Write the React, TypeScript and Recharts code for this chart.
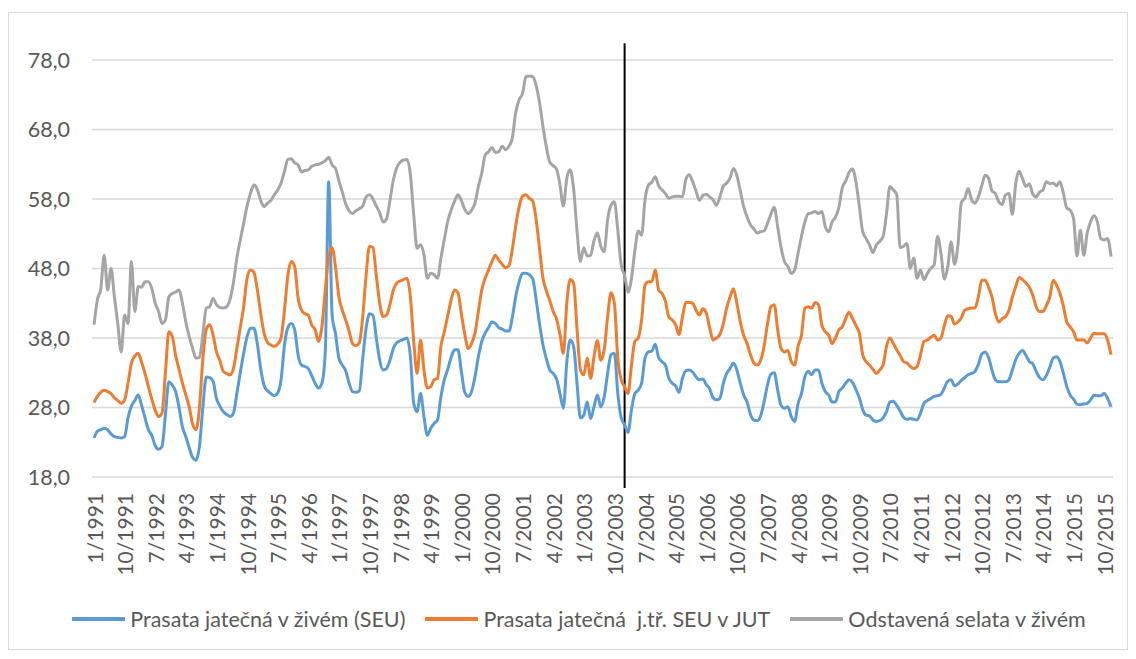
import { CartesianGrid, Legend, Line, LineChart, ReferenceLine, XAxis, YAxis } from "recharts";

const FONT = "Lato, 'Open Sans', sans-serif";
const TEXT = "#595959";

// monthly, 1/1991 .. 12/2015
const years = Array.from({ length: 25 }, (_, i) => 1991 + i);
const categories = years.flatMap((y) => Array.from({ length: 12 }, (_, m) => `${m + 1}/${y}`));

const tickLabels = [
  "1/1991", "10/1991", "7/1992", "4/1993", "1/1994", "10/1994", "7/1995", "4/1996", "1/1997",
  "10/1997", "7/1998", "4/1999", "1/2000", "10/2000", "7/2001", "4/2002", "1/2003", "10/2003",
  "7/2004", "4/2005", "1/2006", "10/2006", "7/2007", "4/2008", "1/2009", "10/2009", "7/2010",
  "4/2011", "1/2012", "10/2012", "7/2013", "4/2014", "1/2015", "10/2015",
];

const yTicks = [18, 28, 38, 48, 58, 68, 78];

const seriesNames = [
  "Prasata jatečná v živém (SEU)",
  "Prasata jatečná  j.tř. SEU v JUT",
  "Odstavená selata v živém",
];

// Prasata jatečná v živém (SEU)
const seu = [
  23.6, 24.6, 24.8, 25.0, 24.8, 24.2, 23.8, 23.7, 23.6, 23.8, 26.5, 28.2,
  29.0, 29.8, 28.3, 26.5, 24.8, 24.0, 22.5, 22.0, 22.4, 27.0, 31.7, 31.2,
  30.3, 28.0, 25.2, 23.8, 22.2, 20.8, 20.4, 22.4, 28.0, 32.4, 32.3, 31.8,
  29.3, 28.2, 27.4, 27.0, 26.7, 27.2, 30.0, 33.0, 35.8, 38.2, 39.4, 39.4,
  37.2, 33.6, 31.2, 30.4, 30.0, 29.7, 30.1, 32.0, 37.0, 39.5, 40.1, 39.2,
  35.6, 34.1, 33.9, 33.6, 32.6, 31.5, 30.8, 31.5, 36.0, 60.5, 41.3, 38.6,
  35.1, 34.1, 33.3, 31.5, 30.3, 30.2, 30.4, 35.0, 39.4, 41.5, 41.3, 38.0,
  34.8, 33.4, 33.6, 34.8, 36.5, 37.3, 37.6, 37.8, 38.0, 35.5, 28.6, 27.4,
  30.0, 26.7, 24.0, 25.0, 25.7, 26.2, 29.6, 32.0, 33.5, 35.2, 36.3, 36.3,
  33.2, 30.2, 29.6, 30.3, 32.4, 35.3, 37.5, 38.7, 39.5, 40.3, 40.1, 39.5,
  39.3, 39.0, 39.0, 41.0, 44.0, 46.1, 47.3, 47.3, 47.1, 46.5, 43.5, 40.0,
  37.0, 35.0, 33.4, 32.9, 32.1, 30.0, 27.9, 34.5, 37.7, 36.8, 31.5, 26.5,
  26.9, 28.8, 26.4, 28.1, 29.8, 28.1, 29.5, 32.9, 35.6, 35.8, 30.0, 26.5,
  25.5, 24.4, 27.6, 30.0, 30.5, 31.5, 35.1, 36.0, 36.1, 37.1, 35.2, 34.6,
  34.1, 32.2, 31.5, 31.1, 30.2, 32.2, 33.3, 33.4, 33.1, 32.4, 32.0, 32.1,
  31.3, 30.7, 29.4, 29.1, 29.3, 31.4, 32.9, 33.6, 34.4, 33.4, 31.5, 29.8,
  28.8, 27.0, 26.2, 26.1, 26.8, 28.8, 31.2, 32.8, 33.0, 30.5, 28.3, 27.9,
  28.1, 26.7, 26.0, 28.6, 30.0, 32.4, 33.2, 32.7, 33.4, 33.4, 31.5, 30.3,
  29.8, 28.8, 28.8, 30.3, 30.8, 31.5, 32.0, 31.6, 30.6, 29.4, 27.7, 26.9,
  26.8, 26.2, 26.0, 26.1, 26.5, 27.4, 28.8, 28.9, 28.3, 27.5, 26.6, 26.3,
  26.4, 26.3, 26.2, 27.2, 28.6, 29.0, 29.3, 29.6, 29.7, 29.9, 30.8, 31.8,
  32.0, 31.1, 31.4, 31.9, 32.3, 32.7, 32.9, 33.2, 34.2, 35.7, 36.0, 35.2,
  33.4, 32.0, 31.7, 31.7, 31.7, 32.0, 33.4, 34.9, 35.8, 36.2, 35.5, 34.6,
  34.3, 33.2, 32.3, 32.0, 32.6, 33.8, 35.1, 35.3, 34.6, 32.9, 31.0, 29.8,
  29.2, 28.5, 28.4, 28.5, 28.6, 29.1, 29.8, 29.7, 29.7, 30.0, 29.3, 28.1,
];

// Prasata jatečná j.tř. SEU v JUT
const jut = [
  28.7, 29.6, 30.2, 30.5, 30.3, 30.0, 29.4, 29.0, 28.6, 29.1, 31.5, 34.4,
  35.4, 35.8, 34.5, 32.9, 31.0, 29.2, 27.6, 26.7, 27.2, 33.0, 38.9, 38.2,
  35.5, 33.5, 31.5, 29.8, 28.1, 25.6, 24.8, 28.0, 35.0, 39.2, 39.9, 38.5,
  36.0, 34.8, 33.2, 32.9, 32.7, 33.6, 36.5, 39.5, 42.5, 46.6, 47.8, 47.5,
  45.0, 41.6, 38.7, 37.4, 37.0, 36.8, 37.1, 38.0, 42.0, 47.0, 49.0, 48.3,
  43.8, 42.0, 41.5, 41.3, 39.9, 39.2, 37.5, 39.6, 44.9, 49.9, 51.0, 48.2,
  43.9, 42.0, 40.6, 39.0, 37.2, 36.9, 37.3, 41.0, 47.0, 51.2, 51.0, 47.0,
  43.0, 41.1, 41.3, 42.8, 44.9, 45.9, 46.2, 46.4, 46.6, 44.0, 37.5, 32.9,
  37.7, 33.4, 30.8, 31.0, 32.0, 32.2, 36.8, 38.9, 41.2, 43.5, 44.9, 44.5,
  41.5, 38.6, 36.5, 37.2, 38.7, 41.8, 44.9, 46.6, 47.8, 49.0, 49.9, 49.2,
  48.6, 48.1, 48.4, 50.8, 54.2, 56.9, 58.4, 58.6, 58.1, 57.7, 55.0, 50.8,
  46.6, 44.8, 43.4, 41.8, 40.7, 38.5, 35.8, 43.0, 46.4, 45.9, 39.4, 33.4,
  32.7, 35.1, 32.2, 35.3, 37.6, 34.8, 36.3, 41.0, 44.5, 43.0, 35.0, 32.0,
  31.0, 30.0, 34.0, 37.5, 38.0, 40.6, 45.6, 46.1, 46.1, 47.8, 44.9, 44.4,
  43.3, 41.0, 40.6, 39.9, 38.5, 41.0, 43.1, 43.1, 43.0, 42.0, 41.3, 42.2,
  41.6, 39.5, 37.7, 38.0, 38.5, 40.0, 42.3, 43.9, 45.1, 43.0, 40.4, 38.4,
  37.2, 35.6, 34.4, 34.1, 34.8, 36.8, 40.0, 42.5, 42.8, 39.2, 36.5, 36.0,
  36.2, 34.6, 34.1, 36.8, 38.4, 42.3, 42.5, 42.3, 43.1, 42.8, 39.8, 38.9,
  38.4, 37.2, 38.0, 39.2, 39.6, 40.8, 41.7, 40.8, 39.8, 38.7, 35.6, 34.6,
  34.1, 33.5, 32.9, 33.4, 34.1, 36.8, 38.0, 37.2, 36.3, 35.5, 34.6, 34.4,
  33.9, 33.6, 33.9, 35.6, 37.5, 37.7, 38.1, 38.4, 37.7, 38.0, 39.8, 41.2,
  41.1, 40.0, 40.3, 40.9, 42.0, 42.2, 42.3, 42.3, 43.9, 46.3, 46.3, 45.3,
  43.9, 41.5, 40.3, 40.8, 41.1, 42.0, 43.9, 45.4, 46.7, 46.4, 45.9, 45.3,
  44.2, 42.5, 41.8, 41.8, 42.7, 43.9, 46.3, 45.6, 44.4, 42.6, 40.3, 39.6,
  38.9, 37.7, 37.7, 37.7, 37.3, 38.0, 38.7, 38.6, 38.6, 38.6, 37.7, 35.6,
];

// Odstavená selata v živém
const selata = [
  39.9, 43.5, 45.1, 49.9, 44.9, 48.0, 43.9, 40.0, 36.0, 41.3, 40.1, 49.0,
  41.8, 45.4, 45.3, 46.1, 46.1, 45.1, 43.0, 41.8, 40.1, 40.6, 43.9, 44.4,
  44.6, 44.9, 43.0, 40.3, 38.2, 36.5, 35.1, 35.2, 38.5, 42.3, 42.5, 43.7,
  42.8, 42.4, 42.3, 42.5, 43.6, 46.0, 49.5, 52.1, 54.5, 57.0, 58.8, 60.0,
  59.4, 57.8, 56.9, 57.4, 57.8, 58.6, 59.3, 60.3, 62.0, 63.7, 63.8, 63.2,
  62.9, 61.9, 62.1, 62.2, 62.7, 62.9, 63.0, 63.2, 63.5, 64.0, 62.9, 62.4,
  60.6, 59.0, 57.3, 56.3, 55.9, 56.3, 56.6, 57.0, 58.3, 58.6, 58.0, 57.0,
  56.0, 54.7, 55.1, 57.8, 60.7, 62.5, 63.3, 63.6, 63.7, 61.6, 55.7, 50.9,
  51.4, 50.0, 46.6, 47.3, 47.1, 46.6, 49.5, 52.2, 54.8, 56.4, 57.7, 58.6,
  57.8, 56.5, 55.9, 56.4, 57.4, 59.8, 61.7, 64.3, 64.8, 65.4, 64.7, 64.8,
  65.6, 65.1, 65.6, 66.8, 70.5, 72.3, 73.2, 75.6, 75.7, 75.6, 74.3, 71.8,
  68.4, 65.5, 63.3, 62.8, 62.3, 60.0, 57.0, 61.0, 62.2, 59.5, 53.5, 49.0,
  51.0, 49.8, 49.9, 52.0, 53.1, 51.2, 50.4, 55.0, 57.1, 57.6, 53.5, 48.5,
  47.0, 44.6, 46.5, 50.5, 53.4, 52.8, 57.9, 60.0, 60.4, 61.2, 59.9, 59.3,
  58.8, 58.1, 58.3, 58.4, 58.4, 58.3, 60.8, 61.5, 60.5, 59.1, 57.8, 58.5,
  58.7, 58.3, 57.9, 57.1, 58.3, 59.8, 60.3, 61.0, 62.4, 61.4, 59.2, 56.9,
  55.4, 54.3, 53.7, 53.1, 53.3, 53.4, 54.5, 55.8, 56.8, 54.0, 51.0, 49.0,
  48.3, 47.3, 47.8, 50.2, 52.6, 54.7, 55.9, 56.0, 56.2, 55.9, 56.2, 54.0,
  53.3, 54.7, 55.4, 56.8, 59.6, 60.6, 61.8, 62.3, 60.5, 57.0, 53.3, 52.3,
  51.4, 50.3, 51.4, 51.9, 52.6, 55.9, 59.8, 59.3, 58.6, 51.0, 51.2, 51.6,
  48.0, 49.5, 46.6, 47.8, 46.4, 47.3, 48.0, 48.5, 52.6, 50.2, 46.5, 48.2,
  51.8, 48.6, 51.4, 57.5, 58.1, 59.5, 57.9, 57.4, 58.3, 59.9, 61.4, 61.0,
  59.2, 58.8, 57.6, 57.2, 58.6, 58.8, 55.8, 60.3, 62.0, 60.9, 59.8, 60.2,
  58.7, 58.3, 59.0, 59.3, 60.5, 60.2, 60.3, 59.9, 60.5, 58.8, 56.7, 56.4,
  55.2, 49.8, 53.5, 49.9, 53.1, 54.7, 55.6, 54.7, 52.3, 52.1, 52.3, 49.7,
];

const data = categories.map((month, i) => ({
  month,
  seu: seu[i],
  jut: jut[i],
  selata: selata[i],
}));

const fmt = (v: number) => v.toFixed(1).replace(".", ",");

function MonthTick({ x, y, payload }: any) {
  return (
    <text
      transform={`translate(${x},${y}) rotate(-90)`}
      textAnchor="end"
      dominantBaseline="central"
      fill={TEXT}
      fontSize={21}
      fontFamily={FONT}
    >
      {payload.value}
    </text>
  );
}

function LegendBox({ payload }: any) {
  // keep the series order, recharts sorts legend items by name
  const items = [...(payload || [])].sort(
    (a: any, b: any) => seriesNames.indexOf(a.value) - seriesNames.indexOf(b.value)
  );
  return (
    <div
      style={{
        display: "flex",
        justifyContent: "center",
        alignItems: "center",
        height: 60,
        paddingLeft: 56,
        fontFamily: FONT,
        fontSize: 21.5,
        color: TEXT,
      }}
    >
      {items.map((e: any) => (
        <span key={e.value} style={{ display: "flex", alignItems: "center", marginRight: 20 }}>
          <svg width={53} height={10}>
            <line x1={1} y1={5} x2={52} y2={5} stroke={e.color} strokeWidth={4} strokeLinecap="round" />
          </svg>
          <span style={{ marginLeft: 5, whiteSpace: "pre" }}>{e.value}</span>
        </span>
      ))}
    </div>
  );
}

export default function App() {
  return (
    <div
      style={{
        width: 1120,
        height: 638,
        marginTop: 4,
        border: "1px solid #d9d9d9",
        boxSizing: "border-box",
        background: "#fff",
      }}
    >
      <LineChart width={1118} height={636} data={data} margin={{ top: 47, right: 14, left: 0, bottom: 0 }}>
        <CartesianGrid vertical={false} stroke="#d9d9d9" strokeWidth={1.5} />
        <XAxis
          dataKey="month"
          ticks={tickLabels}
          interval={0}
          height={112}
          axisLine={false}
          tickLine={false}
          tickMargin={10}
          tick={<MonthTick />}
          padding={{ left: 2, right: 2 }}
        />
        <YAxis
          width={83}
          domain={[18, 78]}
          ticks={yTicks}
          tickFormatter={fmt}
          axisLine={false}
          tickLine={false}
          tickMargin={16}
          tick={{ fill: TEXT, fontSize: 21.5, fontFamily: FONT }}
        />
        <Legend verticalAlign="bottom" content={<LegendBox />} />
        <ReferenceLine
          segment={[
            { x: "1/2004", y: 16.4 },
            { x: "1/2004", y: 80.4 },
          ]}
          ifOverflow="visible"
          stroke="#000"
          strokeWidth={2}
        />
        <Line
          type="monotone"
          dataKey="seu"
          name={seriesNames[0]}
          stroke="#5b9bd5"
          strokeWidth={3}
          dot={false}
          isAnimationActive={false}
        />
        <Line
          type="monotone"
          dataKey="jut"
          name={seriesNames[1]}
          stroke="#ed7d31"
          strokeWidth={3}
          dot={false}
          isAnimationActive={false}
        />
        <Line
          type="monotone"
          dataKey="selata"
          name={seriesNames[2]}
          stroke="#a5a5a5"
          strokeWidth={3}
          dot={false}
          isAnimationActive={false}
        />
      </LineChart>
    </div>
  );
}
